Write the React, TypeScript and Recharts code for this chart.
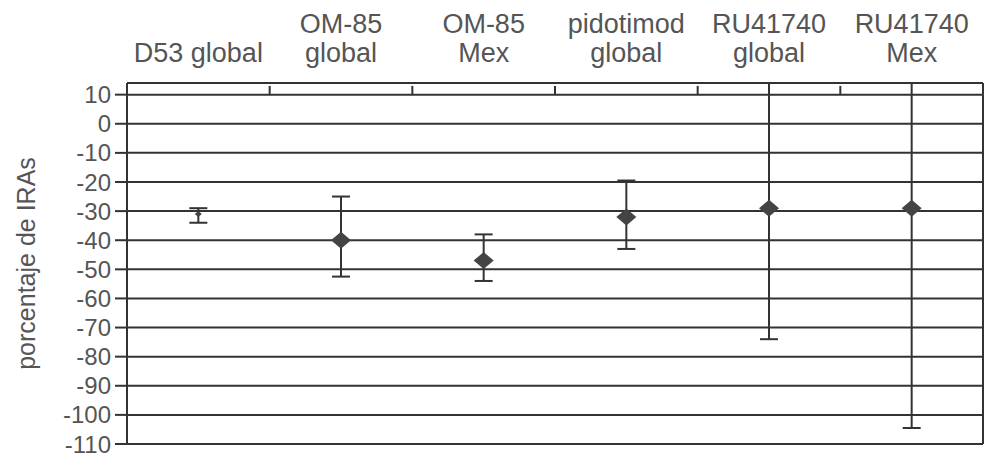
import React from 'react'
import {
  ScatterChart,
  Scatter,
  ErrorBar,
  XAxis,
  YAxis,
  CartesianGrid,
  ReferenceLine,
} from 'recharts'

// category labels (line breaks as in the original figure)
const CATEGORIES = [
  'D53 global',
  'OM-85\nglobal',
  'OM-85\nMex',
  'pidotimod\nglobal',
  'RU41740\nglobal',
  'RU41740\nMex',
]

// mean change and confidence interval, % of IRAs
const MEANS = [-31, -40, -47, -32, -29, -29]
const LOWS = [-34, -52.5, -54, -43, -74, -104.5]
const HIGHS = [-29, -25, -38, -19.5, 16, 16]

const Y_TICKS = [10, 0, -10, -20, -30, -40, -50, -60, -70, -80, -90, -100, -110]
const Y_LABEL = 'porcentaje de IRAs'

const LINE = '#333'
const TEXT = '#555'
const FONT = '"Liberation Sans", Arial, sans-serif'

const W = 988
const H = 457
const MARGIN = { top: 0, right: 5, bottom: 13, left: 0 }
const X_AXIS_H = 83
const Y_AXIS_W = 127

const points = CATEGORIES.map((name, i) => ({
  x: i + 0.5,
  name,
  mean: MEANS[i],
  err: [MEANS[i] - LOWS[i], HIGHS[i] - MEANS[i]],
}))

const catTicks = CATEGORIES.map((_, i) => i + 0.5)
const bandEdges = CATEGORIES.map((_, i) => i + 1)

function CategoryTick({ x, payload }: any) {
  const label = CATEGORIES[Math.floor(payload.value)] ?? ''
  const lines = label.split('\n')
  const baselines = lines.length === 1 ? [62] : [33, 62]
  return (
    <text textAnchor="middle" fill={TEXT} fontSize={27} fontFamily={FONT}>
      {lines.map((l, i) => (
        <tspan key={i} x={x} y={baselines[i]}>
          {l}
        </tspan>
      ))}
    </text>
  )
}

function Diamond({ cx, cy, payload }: any) {
  const small = payload?.name === 'D53 global'
  const w = small ? 3.5 : 10
  const h = small ? 3 : 8.5
  return (
    <polygon
      points={`${cx - w},${cy} ${cx},${cy - h} ${cx + w},${cy} ${cx},${cy + h}`}
      fill="#444"
    />
  )
}

export default function App() {
  return (
    <div style={{ position: 'absolute', left: 0, top: 0, width: W, height: H, background: '#fff' }}>
      <ScatterChart width={W} height={H} margin={MARGIN} style={{ fontFamily: FONT }}>
        <defs>
          <clipPath id="plot-area-clip">
            <rect
              x={MARGIN.left + Y_AXIS_W - 15}
              y={MARGIN.top + X_AXIS_H}
              width={W - MARGIN.left - MARGIN.right - Y_AXIS_W + 15}
              height={H - MARGIN.top - MARGIN.bottom - X_AXIS_H + 15}
            />
          </clipPath>
        </defs>
        <CartesianGrid vertical={false} stroke={LINE} strokeWidth={2} />
        <XAxis
          type="number"
          dataKey="x"
          orientation="top"
          domain={[0, CATEGORIES.length]}
          ticks={catTicks}
          interval={0}
          height={X_AXIS_H}
          axisLine={false}
          tickLine={false}
          tick={<CategoryTick />}
        />
        <YAxis
          type="number"
          dataKey="mean"
          width={Y_AXIS_W}
          domain={[-110, 14]}
          allowDataOverflow
          ticks={Y_TICKS}
          interval={0}
          tickSize={12}
          tickMargin={4}
          axisLine={{ stroke: LINE, strokeWidth: 2 }}
          tickLine={{ stroke: LINE, strokeWidth: 2 }}
          tick={{ fill: TEXT, fontSize: 24, fontFamily: FONT }}
          label={{
            value: Y_LABEL,
            angle: -90,
            position: 'insideLeft',
            offset: 26,
            fill: TEXT,
            fontSize: 25,
            fontFamily: FONT,
            style: { textAnchor: 'middle' },
          }}
        />
        {bandEdges.map(e => (
          <ReferenceLine
            key={e}
            segment={[
              { x: e, y: 10 },
              { x: e, y: e === CATEGORIES.length ? -110 : 13 },
            ]}
            stroke={LINE}
            strokeWidth={2}
          />
        ))}
        <ReferenceLine
          segment={[
            { x: CATEGORIES.length, y: 10 },
            { x: CATEGORIES.length, y: 14 },
          ]}
          stroke={LINE}
          strokeWidth={2}
        />
        <Scatter data={points} shape={<Diamond />} isAnimationActive={false}>
          <ErrorBar
            dataKey="err"
            direction="y"
            width={9}
            stroke={LINE}
            strokeWidth={2}
            clipPath="url(#plot-area-clip)"
          />
        </Scatter>
      </ScatterChart>
    </div>
  )
}
